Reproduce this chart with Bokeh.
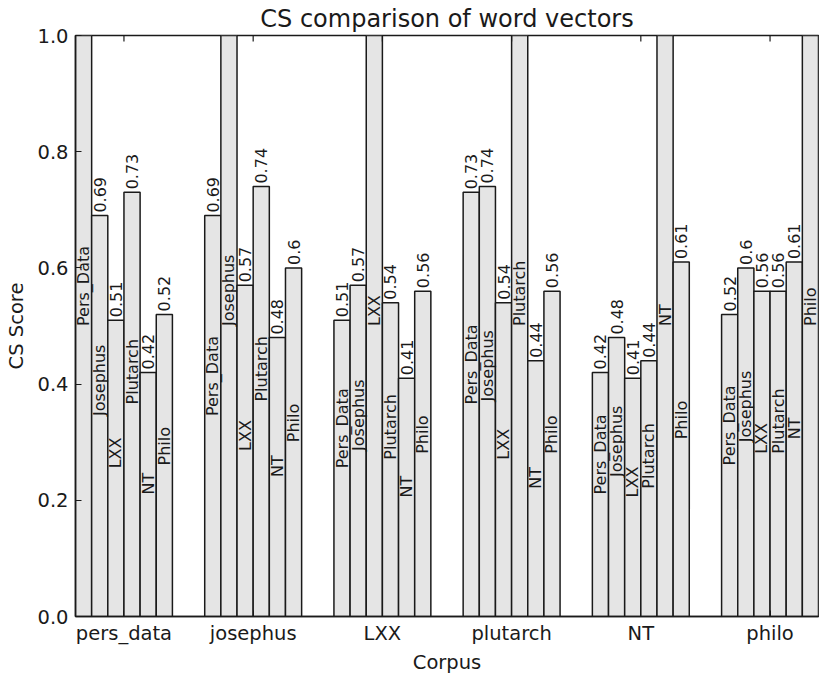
import math
from bokeh.plotting import figure
from bokeh.models import Range1d, FixedTicker, ColumnDataSource, PrintfTickFormatter
from bokeh.core.properties import value
from bokeh.embed import file_html
from bokeh.resources import INLINE

# ---- data ----
groups = ["pers_data", "josephus", "LXX", "plutarch", "NT", "philo"]
series = ["Pers_Data", "Josephus", "LXX", "Plutarch", "NT", "Philo"]
pers_data = [1.0, 0.69, 0.51, 0.73, 0.42, 0.52]
josephus = [0.69, 1.0, 0.57, 0.74, 0.48, 0.60]
lxx = [0.51, 0.57, 1.0, 0.54, 0.41, 0.56]
plutarch = [0.73, 0.74, 0.54, 1.0, 0.44, 0.56]
nt = [0.42, 0.48, 0.41, 0.44, 1.0, 0.61]
philo = [0.52, 0.60, 0.56, 0.56, 0.61, 1.0]
y_ticks = [0.0, 0.2, 0.4, 0.6, 0.8, 1.0]

table = [pers_data, josephus, lxx, plutarch, nt, philo]

FONT = "DejaVu Sans"
INK = "#1a1a1a"
STRIDE = 8
nser = len(series)

xs, tops, halves, names, vals = [], [], [], [], []
for gi, row in enumerate(table):
    for j, v in enumerate(row):
        xs.append(gi * STRIDE + j + 0.5)
        tops.append(v)
        halves.append(v / 2.0)
        names.append(series[j])
        vals.append(str(round(v, 2)))

bars = ColumnDataSource(dict(x=xs, top=tops, half=halves, name=names))
vl = [i for i, t in enumerate(tops) if t < 1.0]
vlabels = ColumnDataSource(dict(x=[xs[i] for i in vl], top=[tops[i] for i in vl],
                                label=[vals[i] for i in vl]))

group_ticks = [gi * STRIDE + (nser // 2) for gi in range(len(groups))]
x_end = (len(groups) - 1) * STRIDE + nser
y_top = y_ticks[-1]

p = figure(width=819, height=676, output_backend="svg", toolbar_location=None,
           x_range=Range1d(0, x_end), y_range=Range1d(y_ticks[0], y_top),
           title="CS comparison of word vectors",
           min_border_left=75, min_border_right=1, min_border_top=0, min_border_bottom=0,
           background_fill_color="white", border_fill_color="white")

p.title.text_font = FONT
p.title.text_font_size = "24px"
p.title.text_font_style = "normal"
p.title.text_color = INK
p.title.align = "center"
p.title.standoff = 5

p.xgrid.visible = False
p.ygrid.visible = False
p.outline_line_color = INK
p.outline_line_width = 1.5
p.outline_line_alpha = 1.0

p.vbar(x="x", top="top", width=1.0, bottom=0, source=bars,
       fill_color="#e5e5e5", line_color=INK, line_width=1.5)

p.text(x="x", y="top", text="label", source=vlabels, angle=math.pi / 2,
       text_align="left", text_baseline="middle", y_offset=-3,
       text_font=value(FONT), text_font_size="16px", text_color=INK)

p.text(x="x", y="half", text="name", source=bars, angle=math.pi / 2,
       text_align="left", text_baseline="middle",
       text_font=value(FONT), text_font_size="16px", text_color=INK)

# inward tick marks along the top edge of the frame
p.scatter(x=group_ticks, y=[y_top] * len(group_ticks), marker="dash", angle=math.pi / 2,
          size=12, line_color=INK, line_width=1.2)

xa = p.xaxis[0]
xa.ticker = FixedTicker(ticks=group_ticks)
xa.major_label_overrides = {t: g for t, g in zip(group_ticks, groups)}
xa.axis_label = "Corpus"

ya = p.yaxis[0]
ya.ticker = FixedTicker(ticks=y_ticks)
ya.formatter = PrintfTickFormatter(format="%.1f")
ya.axis_label = "CS Score"

for ax in (xa, ya):
    ax.major_label_text_font = FONT
    ax.major_label_text_font_size = "19.5px"
    ax.major_label_text_color = INK
    ax.axis_label_text_font = FONT
    ax.axis_label_text_font_size = "19.5px"
    ax.axis_label_text_font_style = "normal"
    ax.axis_label_text_color = INK
    ax.axis_line_color = INK
    ax.axis_line_width = 1.5
    ax.major_tick_in = 6
    ax.major_tick_out = 0
    ax.major_tick_line_color = INK
    ax.minor_tick_line_color = None

xa.major_label_standoff = 5
xa.axis_label_standoff = 3
ya.major_label_standoff = 7
ya.axis_label_standoff = 6

open("out.html", "w").write(file_html(p, INLINE))
